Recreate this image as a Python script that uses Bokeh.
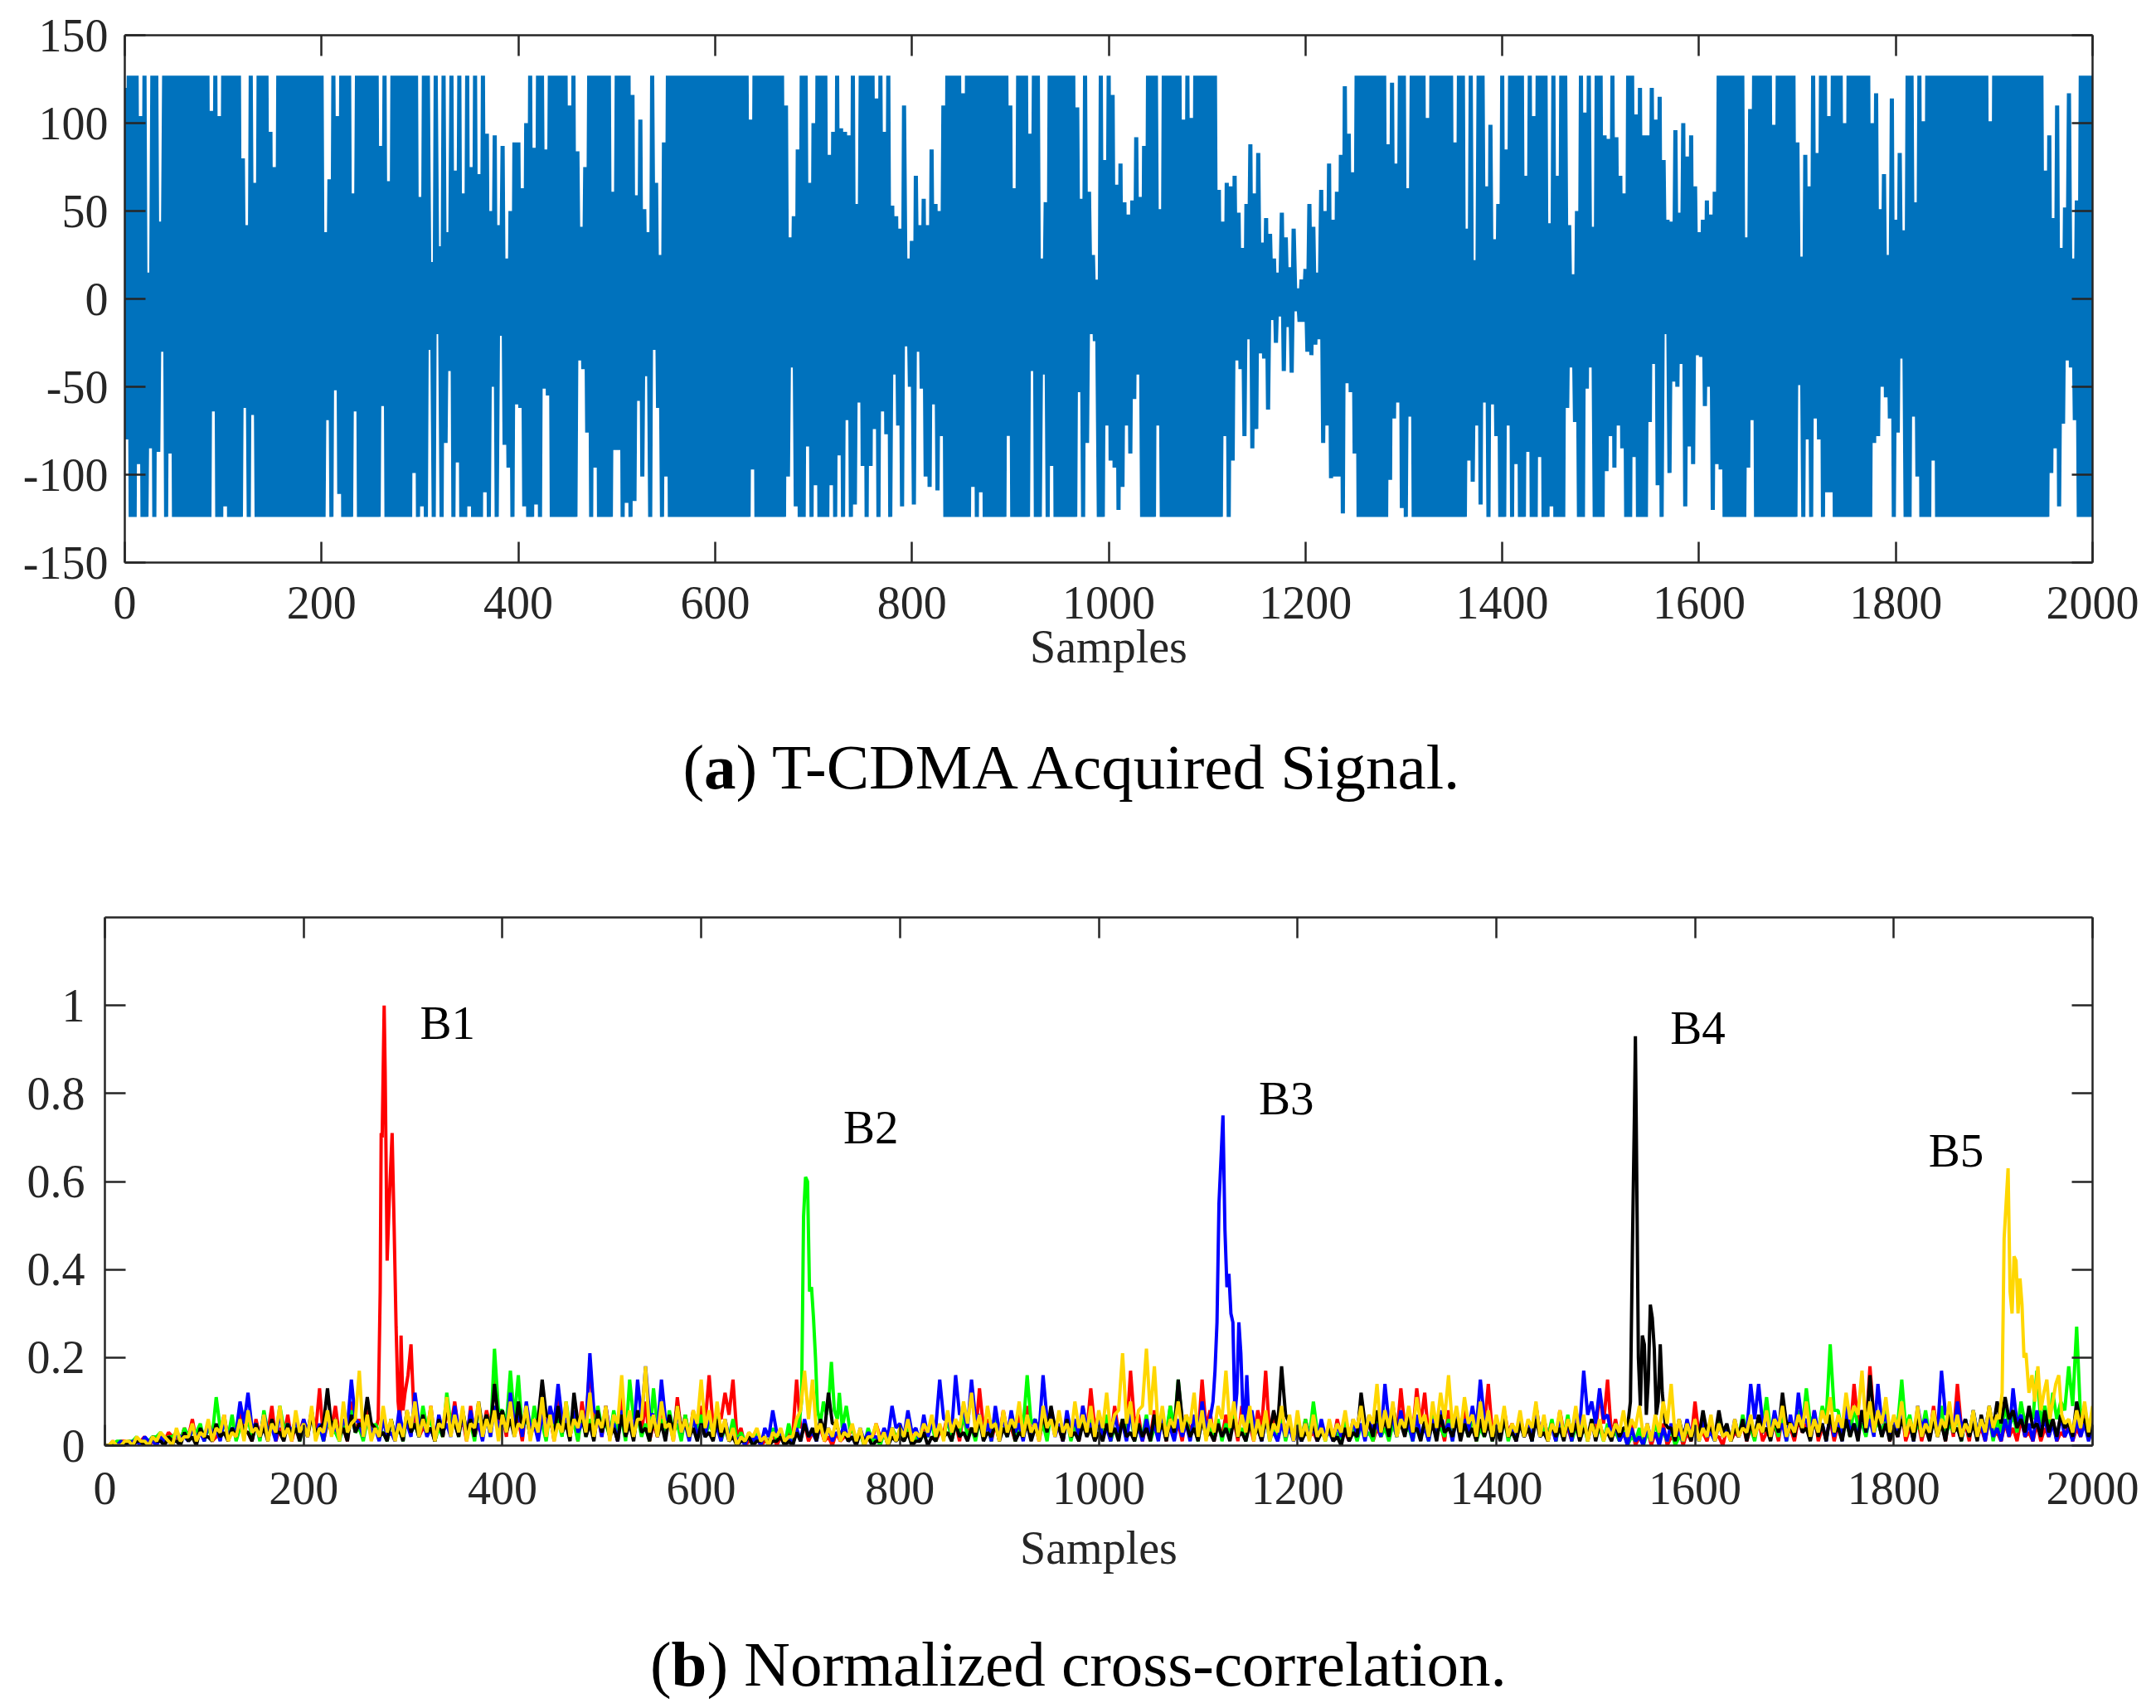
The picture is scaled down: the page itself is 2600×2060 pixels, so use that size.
from bokeh.plotting import figure
from bokeh.layouts import column, row
from bokeh.models import Range1d, LinearAxis, FixedTicker, NumeralTickFormatter, PrintfTickFormatter
from bokeh.core.properties import value
from bokeh.embed import file_html
from bokeh.resources import INLINE

FONT = "Liberation Serif"
AXC = "#262626"
W = 2592

x_ticks = [0, 200, 400, 600, 800, 1000, 1200, 1400, 1600, 1800, 2000]
y1_ticks = [-150, -100, -50, 0, 50, 100, 150]
y2_ticks = [0, 0.2, 0.4, 0.6, 0.8, 1]

# (a) acquired signal: positive swings at samples 0,4,8,...  negative swings at 2,6,10,...
sig_pos = [
    120, 127, 127, 127, 104, 127, 15, 127, 127, 44, 127, 127, 127, 127, 127, 127, 127, 127, 127, 127, 127, 127, 107, 127, 104,
    127, 127, 127, 127, 127, 80, 42, 127, 66, 127, 127, 127, 95, 75, 127, 127, 127, 127, 127, 127, 127, 127, 127, 127, 127,
    127, 38, 68, 127, 104, 127, 127, 127, 60, 127, 127, 127, 127, 127, 127, 87, 127, 67, 127, 127, 127, 127, 127, 127, 127,
    58, 127, 127, 21, 127, 30, 127, 38, 127, 73, 127, 60, 127, 75, 127, 71, 127, 94, 50, 93, 42, 87, 23, 50, 89,
    89, 63, 100, 127, 86, 127, 127, 85, 127, 127, 127, 127, 127, 110, 127, 84, 41, 75, 127, 127, 127, 127, 127, 127, 61,
    127, 127, 127, 127, 116, 59, 102, 51, 38, 127, 66, 25, 89, 127, 127, 127, 127, 127, 127, 127, 127, 127, 127, 127, 127,
    127, 127, 127, 127, 127, 127, 127, 127, 127, 102, 127, 127, 127, 127, 127, 127, 127, 127, 110, 35, 47, 85, 127, 127, 66,
    100, 127, 127, 127, 82, 95, 127, 97, 95, 93, 127, 54, 127, 127, 127, 127, 114, 127, 95, 127, 53, 47, 40, 110, 23,
    33, 70, 42, 57, 42, 85, 54, 50, 110, 127, 127, 127, 127, 117, 127, 127, 127, 127, 127, 127, 127, 127, 127, 127, 127,
    110, 63, 127, 127, 127, 94, 127, 127, 23, 55, 127, 127, 127, 127, 127, 127, 127, 109, 57, 127, 61, 25, 11, 127, 79,
    127, 116, 65, 77, 55, 48, 56, 92, 58, 87, 127, 127, 127, 51, 127, 127, 127, 127, 127, 102, 127, 103, 127, 127, 127,
    127, 127, 127, 62, 44, 66, 64, 70, 49, 29, 54, 88, 60, 83, 32, 46, 37, 23, 15, 49, 35, 18, 40, 6, 11,
    17, 54, 41, 15, 62, 50, 77, 45, 61, 82, 121, 94, 72, 127, 127, 127, 127, 127, 127, 127, 127, 88, 123, 77, 127,
    127, 63, 127, 127, 127, 127, 103, 127, 127, 127, 127, 127, 127, 89, 127, 127, 40, 127, 22, 127, 127, 64, 99, 34, 54,
    127, 85, 127, 127, 127, 127, 70, 127, 104, 127, 127, 127, 43, 127, 70, 127, 127, 42, 14, 50, 127, 106, 127, 41, 127,
    127, 93, 91, 127, 92, 70, 60, 127, 127, 105, 120, 93, 93, 120, 102, 115, 79, 45, 44, 96, 49, 100, 81, 93, 64,
    38, 45, 56, 48, 61, 127, 127, 127, 127, 127, 127, 127, 35, 108, 127, 127, 127, 127, 127, 99, 127, 127, 127, 127, 127,
    89, 24, 82, 64, 127, 83, 127, 127, 104, 127, 127, 127, 100, 127, 127, 127, 127, 127, 127, 100, 117, 51, 71, 25, 114,
    45, 83, 39, 127, 127, 55, 127, 101, 127, 127, 127, 127, 127, 127, 127, 127, 127, 127, 127, 127, 127, 127, 127, 127, 101,
    127, 127, 127, 127, 127, 127, 127, 127, 127, 127, 127, 127, 127, 73, 93, 46, 110, 29, 52, 117, 23, 56, 127, 127, 127,
    127,
]
sig_neg = [
    -80, -124, -124, -94, -124, -124, -85, -124, -87, -30, -124, -88, -124, -124, -124, -124, -124, -124, -124, -124, -124, -124, -64, -124, -124,
    -118, -124, -124, -124, -124, -62, -124, -66, -124, -124, -124, -124, -124, -124, -124, -124, -124, -124, -124, -124, -124, -124, -124, -124, -124,
    -124, -69, -124, -52, -111, -124, -124, -124, -64, -124, -124, -124, -124, -124, -124, -61, -124, -124, -124, -124, -124, -124, -124, -99, -124,
    -118, -124, -29, -124, -20, -124, -82, -41, -124, -93, -124, -124, -118, -124, -124, -124, -110, -124, -50, -124, -21, -83, -96, -124, -60,
    -62, -118, -124, -124, -117, -124, -51, -55, -124, -124, -124, -124, -124, -124, -124, -35, -40, -76, -124, -96, -124, -124, -124, -124, -86,
    -86, -124, -116, -124, -115, -58, -101, -44, -124, -29, -62, -124, -101, -124, -124, -124, -124, -124, -124, -124, -124, -124, -124, -124, -124,
    -124, -124, -124, -124, -124, -124, -124, -124, -124, -97, -124, -124, -124, -124, -124, -124, -124, -124, -101, -39, -118, -124, -124, -84, -124,
    -106, -124, -124, -124, -106, -124, -89, -124, -69, -124, -117, -59, -95, -124, -95, -74, -124, -64, -77, -124, -43, -72, -118, -27, -50,
    -117, -30, -51, -101, -107, -60, -109, -78, -124, -124, -124, -124, -124, -124, -124, -107, -124, -110, -124, -124, -124, -124, -124, -124, -78,
    -124, -124, -124, -124, -124, -41, -124, -124, -43, -124, -95, -124, -124, -124, -124, -124, -124, -53, -124, -82, -20, -24, -124, -124, -72,
    -92, -96, -120, -107, -72, -88, -57, -43, -124, -124, -124, -124, -72, -124, -124, -124, -124, -124, -124, -124, -124, -124, -124, -124, -124,
    -124, -124, -124, -124, -78, -124, -92, -35, -40, -78, -23, -85, -74, -31, -34, -63, -12, -25, -10, -41, -16, -42, -7, -13, -13,
    -30, -32, -26, -23, -82, -72, -102, -101, -101, -122, -48, -53, -88, -124, -124, -124, -124, -124, -124, -124, -124, -103, -68, -59, -119,
    -124, -67, -124, -124, -124, -124, -124, -124, -124, -124, -124, -124, -124, -124, -124, -124, -92, -104, -72, -117, -59, -124, -60, -78, -124,
    -124, -72, -124, -94, -124, -124, -87, -124, -124, -90, -124, -124, -118, -124, -124, -124, -62, -39, -70, -124, -124, -51, -39, -124, -124,
    -124, -98, -78, -96, -72, -85, -124, -124, -90, -124, -124, -124, -70, -37, -106, -124, -20, -99, -47, -50, -37, -118, -84, -94, -32,
    -33, -61, -50, -120, -94, -97, -124, -124, -124, -124, -124, -124, -96, -69, -124, -124, -124, -124, -124, -124, -124, -124, -124, -124, -124,
    -49, -124, -80, -124, -68, -80, -124, -110, -110, -124, -124, -124, -124, -124, -124, -124, -124, -124, -124, -82, -78, -50, -56, -68, -124,
    -76, -34, -124, -124, -67, -101, -124, -124, -124, -92, -124, -124, -124, -124, -124, -124, -124, -124, -124, -124, -124, -124, -124, -124, -124,
    -124, -124, -124, -124, -124, -124, -124, -124, -124, -124, -124, -124, -124, -124, -99, -85, -118, -71, -35, -39, -69, -124, -124, -124, -124,
]

# (b) cross-correlation: local highs every 8 samples (0, 8, ...), lows in between (4, 12, ...)
corr_x = list(range(0, 2001, 8))
corr_x_lo = list(range(4, 2000, 8))
corr_red = [
    0.0, 0.01, 0.01, 0.0, 0.01, 0.02, 0.01, 0.02, 0.03, 0.02, 0.04, 0.06, 0.03, 0.05, 0.02, 0.07, 0.04, 0.08, 0.03, 0.06, 0.05, 0.09, 0.04, 0.07, 0.05,
    0.06, 0.08, 0.13, 0.05, 0.09, 0.04, 0.1, 0.06, 0.08, 0.05, 0.07, 0.04, 0.1, 0.06, 0.07, 0.04, 0.09, 0.05, 0.08, 0.1, 0.06, 0.09, 0.05, 0.08, 0.15,
    0.07, 0.11, 0.06, 0.09, 0.05, 0.1, 0.07, 0.12, 0.06, 0.08, 0.1, 0.19, 0.07, 0.09, 0.05, 0.11, 0.06, 0.08, 0.1, 0.05, 0.09, 0.06, 0.11, 0.07, 0.08,
    0.09, 0.16, 0.08, 0.12, 0.15, 0.04, 0.01, 0.02, 0.01, 0.03, 0.02, 0.03, 0.15, 0.05, 0.03, 0.04, 0.02, 0.03, 0.02, 0.04, 0.03, 0.02, 0.05, 0.03, 0.04,
    0.03, 0.05, 0.02, 0.04, 0.06, 0.03, 0.07, 0.05, 0.08, 0.04, 0.13, 0.06, 0.05, 0.08, 0.04, 0.07, 0.09, 0.05, 0.06, 0.08, 0.04, 0.07, 0.05, 0.09, 0.13,
    0.07, 0.05, 0.09, 0.06, 0.17, 0.07, 0.05, 0.08, 0.06, 0.09, 0.05, 0.07, 0.06, 0.15, 0.08, 0.05, 0.07, 0.06, 0.09, 0.05, 0.08, 0.17, 0.06, 0.08, 0.05,
    0.04, 0.06, 0.03, 0.05, 0.04, 0.06, 0.03, 0.05, 0.1, 0.06, 0.04, 0.07, 0.05, 0.13, 0.06, 0.13, 0.12, 0.07, 0.05, 0.08, 0.06, 0.09, 0.07, 0.1, 0.14,
    0.06, 0.08, 0.05, 0.07, 0.04, 0.09, 0.06, 0.05, 0.08, 0.04, 0.07, 0.06, 0.05, 0.12, 0.15, 0.06, 0.03, 0.05, 0.02, 0.04, 0.03, 0.05, 0.02, 0.04, 0.03,
    0.1, 0.03, 0.05, 0.02, 0.04, 0.03, 0.05, 0.04, 0.06, 0.03, 0.05, 0.07, 0.04, 0.06, 0.05, 0.08, 0.04, 0.06, 0.05, 0.07, 0.14, 0.08, 0.18, 0.06, 0.07,
    0.05, 0.08, 0.04, 0.06, 0.05, 0.09, 0.06, 0.07, 0.14, 0.05, 0.08, 0.04, 0.06, 0.03, 0.05, 0.04, 0.06, 0.03, 0.05, 0.04, 0.06, 0.03, 0.05, 0.04, 0.07,
    0.06,
]
corr_red_lo = [
    0.0, 0.0, 0.01, 0.0, 0.01, 0.0, 0.01, 0.01, 0.02, 0.01, 0.02, 0.01, 0.02, 0.01, 0.03, 0.01, 0.02, 0.03, 0.01, 0.02, 0.03, 0.01, 0.02, 0.01, 0.03,
    0.02, 0.03, 0.01, 0.04, 0.02, 0.01, 0.03, 0.02, 0.04, 0.01, 0.02, 0.03, 0.01, 0.04, 0.02, 0.03, 0.01, 0.02, 0.04, 0.03, 0.01, 0.02, 0.03, 0.04, 0.05,
    0.02, 0.04, 0.01, 0.03, 0.02, 0.04, 0.01, 0.03, 0.02, 0.01, 0.04, 0.06, 0.02, 0.03, 0.01, 0.04, 0.02, 0.03, 0.01, 0.02, 0.04, 0.01, 0.03, 0.02, 0.03,
    0.05, 0.04, 0.06, 0.07, 0.02, 0.0, 0.01, 0.0, 0.01, 0.0, 0.01, 0.02, 0.04, 0.01, 0.02, 0.01, 0.0, 0.01, 0.02, 0.01, 0.0, 0.01, 0.02, 0.01, 0.02,
    0.01, 0.02, 0.01, 0.02, 0.01, 0.03, 0.02, 0.01, 0.03, 0.02, 0.04, 0.01, 0.02, 0.03, 0.01, 0.02, 0.03, 0.01, 0.02, 0.03, 0.01, 0.02, 0.01, 0.03, 0.04,
    0.02, 0.01, 0.03, 0.02, 0.05, 0.01, 0.02, 0.03, 0.01, 0.02, 0.01, 0.03, 0.02, 0.04, 0.01, 0.02, 0.03, 0.01, 0.02, 0.01, 0.04, 0.02, 0.01, 0.03, 0.02,
    0.01, 0.02, 0.01, 0.02, 0.01, 0.02, 0.01, 0.03, 0.02, 0.01, 0.02, 0.03, 0.02, 0.04, 0.03, 0.05, 0.02, 0.03, 0.01, 0.02, 0.03, 0.02, 0.01, 0.04, 0.03,
    0.02, 0.03, 0.01, 0.02, 0.01, 0.03, 0.02, 0.01, 0.03, 0.01, 0.02, 0.01, 0.03, 0.05, 0.02, 0.01, 0.01, 0.0, 0.01, 0.0, 0.01, 0.0, 0.01, 0.0, 0.01,
    0.02, 0.01, 0.02, 0.0, 0.01, 0.02, 0.01, 0.02, 0.01, 0.02, 0.01, 0.02, 0.01, 0.03, 0.02, 0.01, 0.02, 0.01, 0.03, 0.02, 0.05, 0.03, 0.06, 0.02, 0.01,
    0.02, 0.01, 0.02, 0.01, 0.02, 0.03, 0.01, 0.02, 0.04, 0.01, 0.02, 0.01, 0.02, 0.01, 0.02, 0.01, 0.02, 0.01, 0.01, 0.02, 0.01, 0.02, 0.01, 0.02, 0.03,
]
corr_green = [
    0.0, 0.0, 0.01, 0.01, 0.02, 0.01, 0.02, 0.03, 0.02, 0.03, 0.04, 0.03, 0.05, 0.04, 0.11, 0.05, 0.07, 0.04, 0.06, 0.05, 0.08, 0.04, 0.09, 0.05, 0.06,
    0.05, 0.07, 0.04, 0.06, 0.03, 0.05, 0.08, 0.04, 0.06, 0.05, 0.03, 0.06, 0.04, 0.07, 0.05, 0.09, 0.06, 0.04, 0.12, 0.06, 0.08, 0.05, 0.09, 0.07, 0.22,
    0.08, 0.17, 0.16, 0.07, 0.09, 0.05, 0.08, 0.06, 0.1, 0.05, 0.07, 0.06, 0.09, 0.05, 0.08, 0.06, 0.15, 0.07, 0.05, 0.13, 0.06, 0.08, 0.05, 0.07, 0.06,
    0.07, 0.05, 0.08, 0.04, 0.06, 0.03, 0.02, 0.03, 0.02, 0.04, 0.03, 0.05, 0.06, 0.1, 0.2, 0.3, 0.25, 0.12, 0.08, 0.04, 0.03, 0.04, 0.02, 0.03, 0.04,
    0.03, 0.04, 0.02, 0.03, 0.05, 0.04, 0.06, 0.05, 0.07, 0.04, 0.06, 0.05, 0.08, 0.04, 0.06, 0.05, 0.16, 0.06, 0.05, 0.08, 0.04, 0.06, 0.05, 0.07, 0.06,
    0.05, 0.07, 0.04, 0.06, 0.08, 0.05, 0.07, 0.04, 0.06, 0.09, 0.15, 0.06, 0.05, 0.07, 0.04, 0.06, 0.05, 0.08, 0.04, 0.06, 0.05, 0.07, 0.04, 0.06, 0.05,
    0.05, 0.06, 0.1, 0.04, 0.05, 0.03, 0.06, 0.04, 0.05, 0.03, 0.06, 0.04, 0.05, 0.07, 0.04, 0.06, 0.05, 0.07, 0.04, 0.06, 0.08, 0.05, 0.07, 0.04, 0.06,
    0.05, 0.07, 0.04, 0.06, 0.05, 0.08, 0.04, 0.06, 0.05, 0.07, 0.04, 0.05, 0.06, 0.04, 0.05, 0.03, 0.04, 0.02, 0.04, 0.03, 0.05, 0.03, 0.04, 0.02, 0.04,
    0.04, 0.05, 0.03, 0.06, 0.04, 0.05, 0.07, 0.04, 0.06, 0.11, 0.05, 0.07, 0.06, 0.08, 0.13, 0.07, 0.09, 0.23, 0.08, 0.06, 0.09, 0.05, 0.07, 0.06, 0.08,
    0.06, 0.15, 0.07, 0.05, 0.08, 0.06, 0.09, 0.05, 0.07, 0.06, 0.08, 0.05, 0.07, 0.06, 0.09, 0.07, 0.1, 0.08, 0.17, 0.09, 0.12, 0.1, 0.18, 0.27, 0.09,
    0.05,
]
corr_green_lo = [
    0.0, 0.01, 0.0, 0.01, 0.0, 0.01, 0.02, 0.01, 0.02, 0.01, 0.02, 0.03, 0.01, 0.02, 0.04, 0.02, 0.01, 0.03, 0.02, 0.01, 0.03, 0.02, 0.04, 0.02, 0.01,
    0.03, 0.02, 0.01, 0.03, 0.01, 0.02, 0.03, 0.01, 0.02, 0.03, 0.01, 0.02, 0.01, 0.03, 0.02, 0.04, 0.01, 0.02, 0.05, 0.02, 0.03, 0.01, 0.04, 0.02, 0.08,
    0.05, 0.06, 0.03, 0.02, 0.04, 0.01, 0.03, 0.02, 0.04, 0.01, 0.02, 0.03, 0.04, 0.02, 0.03, 0.01, 0.06, 0.02, 0.01, 0.04, 0.02, 0.03, 0.01, 0.02, 0.03,
    0.02, 0.03, 0.01, 0.02, 0.01, 0.01, 0.0, 0.01, 0.0, 0.01, 0.0, 0.01, 0.02, 0.04, 0.08, 0.1, 0.1, 0.05, 0.03, 0.01, 0.0, 0.01, 0.0, 0.01, 0.02,
    0.01, 0.0, 0.01, 0.02, 0.01, 0.02, 0.01, 0.03, 0.02, 0.01, 0.02, 0.01, 0.03, 0.02, 0.01, 0.04, 0.05, 0.02, 0.01, 0.03, 0.02, 0.01, 0.02, 0.03, 0.02,
    0.02, 0.01, 0.02, 0.03, 0.01, 0.02, 0.01, 0.02, 0.03, 0.04, 0.05, 0.02, 0.01, 0.03, 0.02, 0.01, 0.03, 0.02, 0.01, 0.02, 0.03, 0.01, 0.02, 0.01, 0.02,
    0.01, 0.02, 0.03, 0.01, 0.02, 0.01, 0.02, 0.01, 0.02, 0.01, 0.02, 0.01, 0.02, 0.03, 0.01, 0.02, 0.01, 0.03, 0.02, 0.01, 0.03, 0.02, 0.01, 0.02, 0.01,
    0.02, 0.01, 0.03, 0.02, 0.01, 0.03, 0.02, 0.01, 0.02, 0.01, 0.02, 0.01, 0.02, 0.01, 0.02, 0.01, 0.0, 0.01, 0.0, 0.01, 0.02, 0.01, 0.0, 0.01, 0.02,
    0.01, 0.02, 0.01, 0.02, 0.01, 0.02, 0.03, 0.01, 0.04, 0.03, 0.02, 0.01, 0.03, 0.04, 0.05, 0.03, 0.06, 0.08, 0.03, 0.02, 0.04, 0.02, 0.03, 0.02, 0.03,
    0.05, 0.04, 0.02, 0.03, 0.02, 0.04, 0.02, 0.03, 0.01, 0.02, 0.03, 0.02, 0.01, 0.03, 0.04, 0.03, 0.05, 0.06, 0.05, 0.04, 0.06, 0.08, 0.09, 0.06, 0.03,
]
corr_blue = [
    0.0, 0.0, 0.01, 0.0, 0.01, 0.02, 0.01, 0.02, 0.01, 0.03, 0.02, 0.04, 0.03, 0.05, 0.04, 0.06, 0.04, 0.1, 0.12, 0.05, 0.07, 0.04, 0.08, 0.05, 0.06,
    0.06, 0.08, 0.05, 0.07, 0.04, 0.06, 0.15, 0.05, 0.07, 0.04, 0.06, 0.03, 0.08, 0.05, 0.12, 0.06, 0.04, 0.07, 0.05, 0.09, 0.06, 0.08, 0.05, 0.07, 0.09,
    0.06, 0.12, 0.08, 0.1, 0.05, 0.07, 0.09, 0.14, 0.06, 0.08, 0.05, 0.21, 0.07, 0.09, 0.05, 0.08, 0.06, 0.15, 0.18, 0.07, 0.15, 0.06, 0.08, 0.05, 0.07,
    0.05, 0.07, 0.04, 0.06, 0.03, 0.02, 0.03, 0.02, 0.04, 0.08, 0.03, 0.02, 0.04, 0.06, 0.03, 0.05, 0.04, 0.03, 0.05, 0.02, 0.04, 0.03, 0.02, 0.04, 0.09,
    0.05, 0.08, 0.04, 0.07, 0.05, 0.15, 0.06, 0.16, 0.08, 0.15, 0.07, 0.05, 0.09, 0.06, 0.08, 0.05, 0.07, 0.06, 0.16, 0.07, 0.05, 0.08, 0.06, 0.09, 0.05,
    0.06, 0.04, 0.07, 0.05, 0.08, 0.04, 0.06, 0.05, 0.07, 0.04, 0.06, 0.05, 0.07, 0.1, 0.3, 0.6, 0.35, 0.2, 0.15, 0.05, 0.04, 0.06, 0.03, 0.05, 0.04,
    0.03, 0.05, 0.04, 0.06, 0.03, 0.05, 0.04, 0.06, 0.05, 0.07, 0.05, 0.14, 0.06, 0.08, 0.05, 0.07, 0.04, 0.06, 0.08, 0.05, 0.07, 0.06, 0.09, 0.15, 0.07,
    0.05, 0.07, 0.04, 0.06, 0.05, 0.09, 0.06, 0.04, 0.07, 0.05, 0.08, 0.17, 0.1, 0.13, 0.07, 0.05, 0.03, 0.04, 0.02, 0.05, 0.03, 0.04, 0.05, 0.03, 0.06,
    0.04, 0.06, 0.03, 0.05, 0.04, 0.06, 0.05, 0.14, 0.14, 0.06, 0.08, 0.05, 0.07, 0.12, 0.06, 0.08, 0.05, 0.07, 0.06, 0.09, 0.05, 0.08, 0.06, 0.14, 0.07,
    0.06, 0.08, 0.05, 0.09, 0.06, 0.07, 0.17, 0.08, 0.1, 0.06, 0.08, 0.05, 0.07, 0.04, 0.06, 0.13, 0.07, 0.05, 0.08, 0.06, 0.05, 0.07, 0.04, 0.06, 0.05,
    0.04,
]
corr_blue_lo = [
    0.0, 0.0, 0.0, 0.01, 0.0, 0.01, 0.0, 0.01, 0.0, 0.02, 0.01, 0.02, 0.01, 0.03, 0.01, 0.02, 0.03, 0.05, 0.04, 0.02, 0.03, 0.01, 0.02, 0.03, 0.02,
    0.03, 0.02, 0.01, 0.03, 0.02, 0.04, 0.06, 0.02, 0.03, 0.01, 0.02, 0.01, 0.03, 0.02, 0.05, 0.02, 0.01, 0.03, 0.02, 0.04, 0.02, 0.03, 0.01, 0.02, 0.04,
    0.03, 0.05, 0.02, 0.04, 0.01, 0.03, 0.05, 0.06, 0.02, 0.03, 0.04, 0.08, 0.02, 0.03, 0.01, 0.03, 0.02, 0.06, 0.07, 0.03, 0.06, 0.02, 0.03, 0.01, 0.02,
    0.02, 0.03, 0.01, 0.02, 0.01, 0.0, 0.01, 0.0, 0.02, 0.03, 0.01, 0.0, 0.01, 0.02, 0.01, 0.02, 0.01, 0.02, 0.01, 0.0, 0.01, 0.02, 0.01, 0.02, 0.04,
    0.02, 0.03, 0.01, 0.02, 0.04, 0.06, 0.03, 0.07, 0.04, 0.06, 0.02, 0.01, 0.03, 0.02, 0.03, 0.01, 0.02, 0.03, 0.06, 0.02, 0.01, 0.03, 0.02, 0.04, 0.02,
    0.02, 0.01, 0.03, 0.01, 0.02, 0.01, 0.02, 0.01, 0.03, 0.01, 0.02, 0.01, 0.02, 0.04, 0.12, 0.3, 0.15, 0.1, 0.06, 0.02, 0.01, 0.02, 0.01, 0.02, 0.01,
    0.01, 0.02, 0.01, 0.02, 0.01, 0.02, 0.01, 0.02, 0.01, 0.03, 0.02, 0.05, 0.02, 0.03, 0.01, 0.02, 0.01, 0.02, 0.03, 0.01, 0.02, 0.03, 0.04, 0.06, 0.02,
    0.02, 0.03, 0.01, 0.02, 0.01, 0.03, 0.02, 0.01, 0.02, 0.01, 0.04, 0.07, 0.05, 0.06, 0.02, 0.01, 0.0, 0.01, 0.0, 0.01, 0.0, 0.01, 0.02, 0.01, 0.02,
    0.01, 0.02, 0.01, 0.02, 0.01, 0.02, 0.03, 0.06, 0.05, 0.02, 0.03, 0.01, 0.02, 0.05, 0.02, 0.03, 0.01, 0.02, 0.01, 0.03, 0.02, 0.03, 0.02, 0.05, 0.02,
    0.02, 0.03, 0.01, 0.04, 0.02, 0.03, 0.07, 0.03, 0.04, 0.02, 0.03, 0.01, 0.02, 0.01, 0.02, 0.05, 0.02, 0.01, 0.03, 0.02, 0.01, 0.02, 0.01, 0.02, 0.01,
]
corr_black = [
    0.0, 0.0, 0.0, 0.01, 0.01, 0.0, 0.02, 0.01, 0.02, 0.01, 0.03, 0.02, 0.04, 0.02, 0.05, 0.03, 0.04, 0.06, 0.03, 0.05, 0.04, 0.06, 0.03, 0.05, 0.04,
    0.05, 0.07, 0.04, 0.13, 0.06, 0.04, 0.07, 0.05, 0.11, 0.04, 0.03, 0.06, 0.04, 0.08, 0.05, 0.07, 0.04, 0.06, 0.09, 0.05, 0.08, 0.06, 0.1, 0.07, 0.14,
    0.08, 0.06, 0.1, 0.07, 0.05, 0.15, 0.06, 0.09, 0.05, 0.12, 0.07, 0.05, 0.08, 0.06, 0.04, 0.07, 0.05, 0.08, 0.04, 0.06, 0.05, 0.07, 0.09, 0.05, 0.04,
    0.05, 0.03, 0.06, 0.04, 0.02, 0.01, 0.02, 0.01, 0.02, 0.01, 0.02, 0.01, 0.03, 0.05, 0.04, 0.06, 0.12, 0.05, 0.03, 0.02, 0.03, 0.02, 0.01, 0.03, 0.02,
    0.02, 0.03, 0.01, 0.03, 0.02, 0.04, 0.03, 0.05, 0.03, 0.04, 0.06, 0.03, 0.05, 0.04, 0.06, 0.03, 0.05, 0.04, 0.07, 0.09, 0.04, 0.06, 0.03, 0.05, 0.04,
    0.03, 0.05, 0.04, 0.06, 0.03, 0.05, 0.04, 0.07, 0.05, 0.06, 0.15, 0.05, 0.04, 0.06, 0.03, 0.05, 0.04, 0.06, 0.03, 0.05, 0.04, 0.06, 0.08, 0.18, 0.05,
    0.04, 0.03, 0.05, 0.03, 0.04, 0.02, 0.04, 0.03, 0.12, 0.05, 0.08, 0.06, 0.09, 0.05, 0.07, 0.04, 0.06, 0.05, 0.07, 0.04, 0.06, 0.05, 0.04, 0.06, 0.05,
    0.04, 0.06, 0.03, 0.05, 0.04, 0.06, 0.03, 0.05, 0.04, 0.06, 0.05, 0.04, 0.06, 0.05, 0.03, 0.05, 0.04, 0.3, 0.3, 0.2, 0.2, 0.08, 0.04, 0.06, 0.05,
    0.05, 0.08, 0.04, 0.08, 0.05, 0.04, 0.06, 0.05, 0.07, 0.04, 0.06, 0.12, 0.05, 0.07, 0.04, 0.06, 0.05, 0.07, 0.04, 0.06, 0.05, 0.08, 0.16, 0.06, 0.05,
    0.04, 0.06, 0.05, 0.07, 0.04, 0.06, 0.05, 0.07, 0.04, 0.06, 0.05, 0.07, 0.09, 0.1, 0.11, 0.08, 0.06, 0.09, 0.05, 0.08, 0.06, 0.07, 0.05, 0.1, 0.06,
    0.05,
]
corr_black_lo = [
    0.0, 0.0, 0.0, 0.0, 0.01, 0.0, 0.01, 0.0, 0.01, 0.0, 0.01, 0.0, 0.02, 0.01, 0.02, 0.01, 0.02, 0.03, 0.01, 0.02, 0.01, 0.03, 0.01, 0.02, 0.01,
    0.02, 0.03, 0.05, 0.04, 0.02, 0.01, 0.03, 0.04, 0.05, 0.02, 0.01, 0.02, 0.01, 0.03, 0.02, 0.03, 0.01, 0.02, 0.04, 0.02, 0.03, 0.02, 0.04, 0.03, 0.06,
    0.03, 0.02, 0.04, 0.02, 0.06, 0.07, 0.02, 0.03, 0.01, 0.05, 0.02, 0.01, 0.03, 0.02, 0.01, 0.02, 0.01, 0.03, 0.01, 0.02, 0.01, 0.03, 0.04, 0.02, 0.01,
    0.02, 0.01, 0.02, 0.01, 0.0, 0.01, 0.0, 0.01, 0.0, 0.01, 0.0, 0.0, 0.01, 0.02, 0.01, 0.03, 0.05, 0.02, 0.01, 0.0, 0.01, 0.0, 0.01, 0.0, 0.01,
    0.01, 0.0, 0.01, 0.0, 0.01, 0.02, 0.01, 0.02, 0.01, 0.02, 0.01, 0.02, 0.01, 0.02, 0.01, 0.02, 0.01, 0.02, 0.03, 0.04, 0.01, 0.02, 0.01, 0.02, 0.01,
    0.01, 0.02, 0.01, 0.02, 0.01, 0.02, 0.01, 0.03, 0.01, 0.03, 0.06, 0.02, 0.01, 0.02, 0.01, 0.02, 0.01, 0.02, 0.01, 0.02, 0.01, 0.03, 0.04, 0.07, 0.02,
    0.01, 0.02, 0.01, 0.02, 0.01, 0.0, 0.01, 0.02, 0.05, 0.02, 0.03, 0.02, 0.04, 0.02, 0.03, 0.01, 0.02, 0.01, 0.03, 0.02, 0.01, 0.02, 0.01, 0.02, 0.01,
    0.01, 0.02, 0.01, 0.02, 0.01, 0.02, 0.01, 0.02, 0.01, 0.02, 0.01, 0.02, 0.01, 0.02, 0.01, 0.02, 0.01, 0.1, 0.1, 0.08, 0.08, 0.03, 0.01, 0.02, 0.01,
    0.02, 0.03, 0.02, 0.03, 0.01, 0.02, 0.01, 0.02, 0.03, 0.01, 0.03, 0.05, 0.02, 0.03, 0.01, 0.02, 0.01, 0.03, 0.01, 0.02, 0.01, 0.03, 0.06, 0.02, 0.01,
    0.02, 0.03, 0.01, 0.02, 0.01, 0.02, 0.01, 0.03, 0.01, 0.02, 0.01, 0.03, 0.04, 0.05, 0.06, 0.04, 0.03, 0.04, 0.02, 0.03, 0.02, 0.04, 0.02, 0.05, 0.02,
]
corr_yellow = [
    0.0, 0.01, 0.0, 0.01, 0.02, 0.01, 0.02, 0.03, 0.01, 0.04, 0.02, 0.05, 0.03, 0.06, 0.04, 0.07, 0.03, 0.06, 0.08, 0.04, 0.07, 0.05, 0.09, 0.04, 0.08,
    0.05, 0.09, 0.04, 0.08, 0.06, 0.1, 0.05, 0.17, 0.07, 0.04, 0.09, 0.06, 0.05, 0.08, 0.1, 0.06, 0.09, 0.05, 0.11, 0.07, 0.09, 0.05, 0.1, 0.06, 0.08,
    0.07, 0.1, 0.05, 0.09, 0.06, 0.11, 0.07, 0.05, 0.1, 0.06, 0.08, 0.12, 0.06, 0.09, 0.07, 0.16, 0.08, 0.06, 0.18, 0.07, 0.1, 0.05, 0.09, 0.06, 0.08,
    0.15, 0.08, 0.1, 0.06, 0.04, 0.02, 0.03, 0.04, 0.02, 0.03, 0.04, 0.02, 0.06, 0.17, 0.15, 0.05, 0.04, 0.06, 0.03, 0.05, 0.04, 0.02, 0.05, 0.03, 0.04,
    0.04, 0.06, 0.03, 0.05, 0.07, 0.05, 0.08, 0.06, 0.1, 0.12, 0.07, 0.09, 0.05, 0.08, 0.06, 0.1, 0.07, 0.05, 0.09, 0.06, 0.08, 0.05, 0.1, 0.07, 0.09,
    0.08, 0.12, 0.07, 0.21, 0.1, 0.08, 0.22, 0.18, 0.09, 0.06, 0.1, 0.07, 0.12, 0.08, 0.06, 0.09, 0.17, 0.1, 0.07, 0.09, 0.06, 0.08, 0.05, 0.09, 0.07,
    0.08, 0.05, 0.07, 0.04, 0.06, 0.05, 0.08, 0.06, 0.09, 0.07, 0.14, 0.08, 0.1, 0.06, 0.09, 0.11, 0.07, 0.1, 0.12, 0.16, 0.09, 0.11, 0.07, 0.1, 0.08,
    0.07, 0.09, 0.05, 0.08, 0.06, 0.1, 0.07, 0.05, 0.08, 0.06, 0.09, 0.07, 0.05, 0.06, 0.04, 0.05, 0.08, 0.06, 0.09, 0.05, 0.07, 0.1, 0.14, 0.06, 0.05,
    0.06, 0.04, 0.07, 0.05, 0.03, 0.06, 0.04, 0.07, 0.05, 0.08, 0.06, 0.09, 0.05, 0.07, 0.1, 0.06, 0.08, 0.11, 0.07, 0.12, 0.09, 0.17, 0.1, 0.08, 0.11,
    0.07, 0.1, 0.06, 0.09, 0.05, 0.08, 0.06, 0.1, 0.07, 0.05, 0.08, 0.06, 0.09, 0.07, 0.3, 0.4, 0.3, 0.2, 0.15, 0.12, 0.1, 0.09, 0.06, 0.08, 0.1,
    0.09,
]
corr_yellow_lo = [
    0.0, 0.0, 0.01, 0.0, 0.01, 0.0, 0.01, 0.02, 0.0, 0.01, 0.02, 0.01, 0.02, 0.01, 0.03, 0.01, 0.02, 0.01, 0.03, 0.02, 0.01, 0.03, 0.02, 0.01, 0.03,
    0.02, 0.01, 0.03, 0.02, 0.01, 0.03, 0.06, 0.02, 0.01, 0.02, 0.03, 0.01, 0.02, 0.04, 0.02, 0.03, 0.01, 0.04, 0.02, 0.03, 0.01, 0.04, 0.02, 0.03, 0.01,
    0.03, 0.02, 0.04, 0.01, 0.03, 0.02, 0.01, 0.03, 0.02, 0.04, 0.03, 0.02, 0.04, 0.01, 0.05, 0.03, 0.02, 0.06, 0.03, 0.02, 0.04, 0.01, 0.03, 0.02, 0.05,
    0.04, 0.02, 0.03, 0.01, 0.0, 0.01, 0.02, 0.01, 0.0, 0.02, 0.01, 0.02, 0.08, 0.06, 0.03, 0.01, 0.02, 0.01, 0.02, 0.01, 0.0, 0.02, 0.01, 0.0, 0.01,
    0.02, 0.01, 0.02, 0.03, 0.02, 0.01, 0.03, 0.04, 0.05, 0.03, 0.02, 0.04, 0.01, 0.03, 0.04, 0.02, 0.03, 0.01, 0.04, 0.02, 0.03, 0.02, 0.04, 0.03, 0.02,
    0.04, 0.03, 0.08, 0.05, 0.02, 0.09, 0.07, 0.03, 0.02, 0.04, 0.03, 0.05, 0.02, 0.01, 0.03, 0.06, 0.04, 0.02, 0.03, 0.01, 0.02, 0.01, 0.03, 0.02, 0.01,
    0.02, 0.01, 0.02, 0.01, 0.02, 0.03, 0.02, 0.04, 0.02, 0.05, 0.03, 0.04, 0.02, 0.04, 0.03, 0.05, 0.02, 0.04, 0.06, 0.04, 0.03, 0.05, 0.02, 0.03, 0.02,
    0.03, 0.02, 0.03, 0.02, 0.04, 0.02, 0.01, 0.03, 0.02, 0.03, 0.02, 0.01, 0.02, 0.01, 0.02, 0.03, 0.02, 0.04, 0.02, 0.01, 0.03, 0.05, 0.02, 0.01, 0.02,
    0.01, 0.02, 0.01, 0.02, 0.01, 0.02, 0.03, 0.02, 0.03, 0.02, 0.04, 0.02, 0.03, 0.04, 0.02, 0.03, 0.05, 0.03, 0.04, 0.06, 0.07, 0.04, 0.03, 0.05, 0.03,
    0.04, 0.02, 0.03, 0.02, 0.03, 0.02, 0.04, 0.03, 0.02, 0.03, 0.02, 0.03, 0.04, 0.1, 0.2, 0.25, 0.15, 0.1, 0.06, 0.04, 0.03, 0.02, 0.03, 0.04, 0.03,
]

red_pk_x = [268, 272, 275, 277, 278, 279, 281, 282, 284, 286, 289, 291, 293, 295, 297, 298, 300, 302, 305, 308, 311, 314]
red_pk_y = [0.05, 0.03, 0.06, 0.35, 0.71, 0.7, 1.0, 0.85, 0.42, 0.55, 0.71, 0.5, 0.27, 0.1, 0.05, 0.25, 0.08, 0.12, 0.16, 0.23, 0.07, 0.04]
green_pk_x = [698, 701, 703, 705, 707, 709, 711, 713, 715, 717, 720, 723, 726, 729, 731, 734, 737, 739, 742, 746, 750]
green_pk_y = [0.04, 0.1, 0.52, 0.61, 0.6, 0.35, 0.36, 0.29, 0.2, 0.08, 0.05, 0.1, 0.07, 0.12, 0.19, 0.08, 0.06, 0.12, 0.04, 0.09, 0.03]
blue_pk_x = [1112, 1115, 1117, 1119, 1121, 1123, 1125, 1127, 1129, 1131, 1133, 1135, 1137, 1139, 1141, 1143, 1145, 1147, 1149, 1151, 1154, 1157]
blue_pk_y = [0.06, 0.1, 0.17, 0.28, 0.55, 0.65, 0.75, 0.49, 0.36, 0.39, 0.3, 0.28, 0.07, 0.12, 0.28, 0.21, 0.08, 0.05, 0.16, 0.06, 0.08, 0.04]
black_pk_x = [1532, 1535, 1537, 1539, 1540, 1541, 1543, 1545, 1547, 1549, 1551, 1553, 1555, 1557, 1559, 1561, 1563, 1565, 1567, 1570, 1573]
black_pk_y = [0.04, 0.1, 0.45, 0.75, 0.93, 0.7, 0.2, 0.09, 0.25, 0.23, 0.07, 0.15, 0.32, 0.29, 0.22, 0.07, 0.1, 0.23, 0.12, 0.05, 0.04]
yellow_pk_x = [1906, 1909, 1911, 1913, 1915, 1917, 1919, 1921, 1923, 1925, 1927, 1929, 1931, 1933, 1936, 1939, 1942, 1945, 1948, 1951, 1954, 1957, 1960, 1963, 1966, 1969, 1972]
yellow_pk_y = [0.06, 0.12, 0.47, 0.55, 0.63, 0.35, 0.3, 0.43, 0.42, 0.3, 0.38, 0.32, 0.2, 0.21, 0.12, 0.16, 0.1, 0.18, 0.08, 0.12, 0.15, 0.06, 0.1, 0.14, 0.16, 0.07, 0.05]

peak_names = ["B1", "B2", "B3", "B4", "B5"]
peak_lab_x = [317, 743, 1161, 1575, 1835]
peak_lab_y = [0.960, 0.723, 0.790, 0.950, 0.670]


def merge(hi, lo, px, py):
    pts = list(zip(corr_x, hi)) + list(zip(corr_x_lo, lo))
    pts = [(x, y) for x, y in pts if x < px[0] or x > px[-1]]
    pts += list(zip(px, py))
    pts.sort()
    return [a for a, b in pts], [b for a, b in pts]


def box_axes(p, yticks, xstand, ystand, lab_stand):
    top = LinearAxis(ticker=FixedTicker(ticks=x_ticks))
    right = LinearAxis(ticker=FixedTicker(ticks=yticks))
    p.add_layout(top, "above")
    p.add_layout(right, "right")
    p.below[0].ticker = FixedTicker(ticks=x_ticks)
    p.left[0].ticker = FixedTicker(ticks=yticks)
    for ax in [p.below[0], p.left[0], top, right]:
        ax.axis_line_color = AXC
        ax.axis_line_width = 2.5
        ax.major_tick_line_color = AXC
        ax.major_tick_line_width = 2.5
        ax.major_tick_in = 25
        ax.major_tick_out = 0
        ax.minor_tick_line_color = None
        ax.major_label_text_font = FONT
        ax.major_label_text_font_size = "56px"
        ax.major_label_text_color = AXC
    for ax in [top, right]:
        ax.major_label_text_color = None
        ax.major_label_text_font_size = "1px"
        ax.major_label_standoff = 0
    p.below[0].major_label_standoff = xstand
    p.left[0].major_label_standoff = ystand
    p.below[0].axis_label = "Samples"
    p.below[0].axis_label_standoff = lab_stand
    p.below[0].axis_label_text_font = FONT
    p.below[0].axis_label_text_font_size = "56px"
    p.below[0].axis_label_text_font_style = "normal"
    p.below[0].axis_label_text_color = AXC
    p.xgrid.grid_line_color = None
    p.ygrid.grid_line_color = None
    p.outline_line_color = None


def caption_fig(h, x0, mid, parts):
    # a strip whose frame is the whole canvas, so data units are pixels
    c = figure(frame_width=W, frame_height=h, title=None, toolbar_location=None, output_backend="svg",
               x_range=Range1d(0, W), y_range=Range1d(0, h), x_axis_type=None, y_axis_type=None,
               min_border=0, min_border_left=0, min_border_right=0, min_border_top=0, min_border_bottom=0)
    c.outline_line_color = None
    for txt, bold, dx in parts:
        c.text(x=[x0 + dx], y=[mid], text=[txt], text_font=value(FONT), text_font_size=value("77px"),
               text_font_style="bold" if bold else "normal", text_color="black",
               text_baseline="middle", text_align="left")
    return c


# ---- (a) ----
p1 = figure(width=W, height=853, title=None, toolbar_location=None, output_backend="svg",
            x_range=Range1d(0, 2000), y_range=Range1d(-150, 150),
            min_border_left=150, min_border_right=69, min_border_top=42, min_border_bottom=175)
box_axes(p1, y1_ticks, 29, 20, 0)
p1.left[0].formatter = PrintfTickFormatter(format="%d")

sig_x = list(range(0, 2001, 2))
sig_y = []
for hi, lo in zip(sig_pos, sig_neg):
    sig_y += [hi, lo]
sig_y.append(sig_pos[-1])
p1.line(sig_x, sig_y, line_color="#0072BD", line_width=5)

cap1 = caption_fig(147, 823, 76, [("(", False, 0), ("a", True, 25.6), (") T-CDMA Acquired Signal.", False, 64.1)])

# ---- (b) ----
p2 = figure(width=W, height=940, title=None, toolbar_location=None, output_backend="svg",
            x_range=Range1d(0, 2000), y_range=Range1d(0, 1.2),
            min_border_left=126, min_border_right=69, min_border_top=106, min_border_bottom=197)
box_axes(p2, y2_ticks, 32, 24, 19)
p2.left[0].formatter = NumeralTickFormatter(format="0.[0]")

series = [
    (corr_red, corr_red_lo, red_pk_x, red_pk_y, "#FF0000"),
    (corr_green, corr_green_lo, green_pk_x, green_pk_y, "#00FF00"),
    (corr_blue, corr_blue_lo, blue_pk_x, blue_pk_y, "#0000FF"),
    (corr_black, corr_black_lo, black_pk_x, black_pk_y, "#000000"),
    (corr_yellow, corr_yellow_lo, yellow_pk_x, yellow_pk_y, "#FFD700"),
]
for hi, lo, px, py, col in series:
    xs, ys = merge(hi, lo, px, py)
    p2.line(xs, ys, line_color=col, line_width=4)

p2.text(x=peak_lab_x, y=peak_lab_y, text=peak_names, text_font=value(FONT),
        text_font_size=value("57px"), text_color="black", text_baseline="middle", text_align="left")

cap2 = caption_fig(120, 783.5, 54, [("(", False, 0), ("b", True, 25.6), (") Normalized cross-correlation.", False, 68.4)])

# each piece in its own row so the column does not line up their frames
layout = column(row(p1), row(cap1), row(p2), row(cap2))
open("out.html", "w").write(file_html(layout, INLINE))
